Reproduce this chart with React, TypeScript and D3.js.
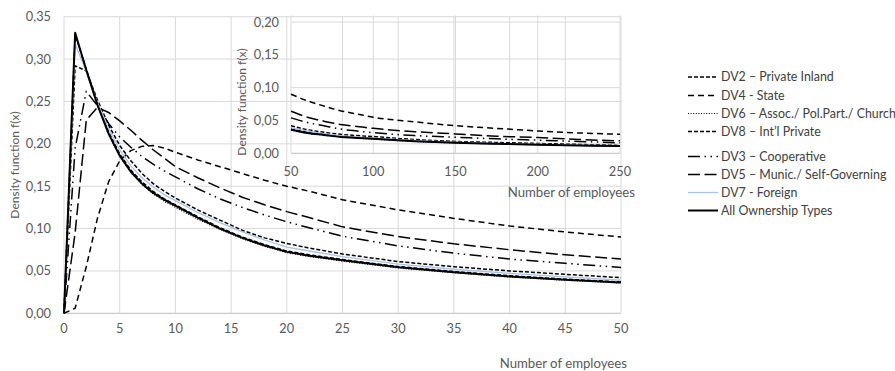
import * as d3 from 'd3';

// x positions (number of employees) for the main panel and the inset
const mainX = [0, 1, 2, 3, 4, 5, 6, 7, 8, 9, 10, 12, 14, 16, 18, 20, 22, 25, 30, 35, 40, 45, 50];
const insetX = [50, 60, 70, 80, 90, 100, 125, 150, 175, 200, 225, 250];

const yTicksMain = [0, 0.05, 0.1, 0.15, 0.2, 0.25, 0.3, 0.35];
const xTicksMain = [0, 5, 10, 15, 20, 25, 30, 35, 40, 45, 50];
const yTicksInset = [0, 0.05, 0.1, 0.15, 0.2];
const yGridInset = [0, 0.1, 0.2];
const xTicksInset = [50, 100, 150, 200, 250];

// density values (x = 0..50)
const dv2Main = [0, 0.329, 0.288, 0.248, 0.214, 0.188, 0.169, 0.155, 0.144, 0.135, 0.128, 0.114, 0.101, 0.090, 0.081, 0.0735, 0.069, 0.0635, 0.0552, 0.0493, 0.0443, 0.0403, 0.037];
const dv4Main = [0, 0.006, 0.055, 0.112, 0.155, 0.180, 0.192, 0.197, 0.198, 0.195, 0.190, 0.181, 0.173, 0.165, 0.157, 0.150, 0.144, 0.134, 0.122, 0.112, 0.103, 0.096, 0.090];
const dv6Main = [0, 0.330, 0.286, 0.245, 0.211, 0.185, 0.166, 0.152, 0.141, 0.132, 0.125, 0.111, 0.099, 0.088, 0.079, 0.0715, 0.067, 0.0615, 0.0535, 0.0478, 0.0428, 0.039, 0.0356];
const dv8Main = [0, 0.292, 0.286, 0.252, 0.222, 0.198, 0.180, 0.165, 0.153, 0.144, 0.136, 0.122, 0.110, 0.098, 0.089, 0.0825, 0.077, 0.070, 0.061, 0.055, 0.050, 0.046, 0.042];
const dv3Main = [0, 0.195, 0.262, 0.245, 0.224, 0.208, 0.196, 0.185, 0.176, 0.168, 0.161, 0.147, 0.135, 0.125, 0.116, 0.108, 0.101, 0.091, 0.0795, 0.071, 0.064, 0.059, 0.054];
const dv5Main = [0, 0.095, 0.228, 0.243, 0.237, 0.227, 0.216, 0.204, 0.193, 0.183, 0.173, 0.160, 0.148, 0.137, 0.128, 0.120, 0.113, 0.102, 0.0905, 0.082, 0.075, 0.069, 0.064];
const dv7Main = [0, 0.318, 0.285, 0.249, 0.218, 0.193, 0.174, 0.160, 0.149, 0.140, 0.133, 0.119, 0.107, 0.096, 0.0865, 0.078, 0.0735, 0.067, 0.058, 0.052, 0.047, 0.043, 0.039];
const allMain = [0, 0.331, 0.287, 0.246, 0.212, 0.186, 0.167, 0.153, 0.142, 0.134, 0.127, 0.113, 0.100, 0.089, 0.080, 0.0725, 0.068, 0.0625, 0.0543, 0.0485, 0.0435, 0.0395, 0.0362];

// density values (x = 50..250)
const dv2Inset = [0.037, 0.032, 0.029, 0.026, 0.024, 0.0225, 0.019, 0.0165, 0.015, 0.0136, 0.0124, 0.0113];
const dv4Inset = [0.090, 0.080, 0.072, 0.065, 0.060, 0.055, 0.048, 0.042, 0.038, 0.034, 0.031, 0.029];
const dv6Inset = [0.0355, 0.0305, 0.0275, 0.0248, 0.023, 0.0215, 0.018, 0.0157, 0.0142, 0.013, 0.0118, 0.0108];
const dv8Inset = [0.042, 0.036, 0.032, 0.029, 0.027, 0.0255, 0.021, 0.018, 0.0165, 0.015, 0.0135, 0.012];
const dv3Inset = [0.054, 0.047, 0.042, 0.037, 0.034, 0.0315, 0.027, 0.0245, 0.022, 0.020, 0.018, 0.016];
const dv5Inset = [0.064, 0.055, 0.049, 0.044, 0.041, 0.038, 0.033, 0.0295, 0.026, 0.024, 0.021, 0.019];
const dv7Inset = [0.039, 0.034, 0.030, 0.027, 0.025, 0.0235, 0.0195, 0.017, 0.015, 0.0138, 0.0125, 0.0115];
const allInset = [0.036, 0.031, 0.028, 0.025, 0.0235, 0.022, 0.0185, 0.016, 0.0145, 0.0132, 0.012, 0.011];

const seriesNames = [
  'DV2 – Private Inland',
  'DV4 - State',
  'DV6 – Assoc./ Pol.Part./ Church',
  'DV8 – Int’l Private',
  'DV3 – Cooperative',
  'DV5 – Munic./ Self-Governing',
  'DV7 - Foreign',
  'All Ownership Types',
];

type Style = { stroke: string; width: number; dash?: string };

const styles: Style[] = [
  { stroke: '#000', width: 1.5, dash: '4,2' },
  { stroke: '#000', width: 1.5, dash: '6,4' },
  { stroke: '#000', width: 1.1, dash: '1,1.6' },
  { stroke: '#000', width: 1.5, dash: '4,2' },
  { stroke: '#000', width: 1.5, dash: '12,4.5,1.5,4.5,1.5,4.5' },
  { stroke: '#000', width: 1.5, dash: '12,4.5' },
  { stroke: '#a9c3ea', width: 1.3 },
  { stroke: '#000', width: 2 },
];

const mainSeries = [dv2Main, dv4Main, dv6Main, dv8Main, dv3Main, dv5Main, dv7Main, allMain];
const insetSeries = [dv2Inset, dv4Inset, dv6Inset, dv8Inset, dv3Inset, dv5Inset, dv7Inset, allInset];
const legendRows = [77, 95.5, 113.5, 131.5, 156.5, 174.5, 192.5, 210.5];

const FONT = 'Lato, "Noto Sans", sans-serif';
const GRID = '#d9d9d9';
const TEXT = '#595959';

const fmt = (v: number) => v.toFixed(2).replace('.', ',');

export default function App() {
  const width = 895;
  const height = 371;

  const x = d3.scaleLinear().domain([0, 50]).range([64, 621]);
  const y = d3.scaleLinear().domain([0, 0.35]).range([313.3, 16.7]);

  const xi = d3.scaleLinear().domain([50, 250]).range([291, 620]);
  const yi = d3.scaleLinear().domain([0, 0.21]).range([153.3, 15.5]);

  const mainLine = (vals: number[]) =>
    d3.line<number>()
      .x((_, i) => x(mainX[i]))
      .y(d => y(d))
      .curve(d3.curveLinear)(vals) || '';

  const insetLine = (vals: number[]) =>
    d3.line<number>()
      .x((_, i) => xi(insetX[i]))
      .y(d => yi(d))
      .curve(d3.curveMonotoneX)(vals) || '';

  return (
    <svg width={width} height={height} style={{ position: 'absolute', left: 0, top: 0, background: '#fff' }}
      fontFamily={FONT}>
      {/* main grid */}
      <g>
        {yTicksMain.map(t => (
          <line key={'hy' + t} x1={x(0)} x2={x(50)} y1={y(t)} y2={y(t)} stroke={t === 0 ? '#bfbfbf' : GRID} strokeWidth={1} />
        ))}
        {xTicksMain.map(t => (
          <line key={'vx' + t} x1={x(t)} x2={x(t)} y1={y(0.35)} y2={y(0)} stroke={GRID} strokeWidth={1} />
        ))}
      </g>
      {/* inset grid */}
      <g>
        {yGridInset.map(t => (
          <line key={'ihy' + t} x1={xi(50)} x2={xi(250)} y1={yi(t)} y2={yi(t)} stroke={t === 0 ? '#bfbfbf' : GRID} strokeWidth={1} />
        ))}
        {xTicksInset.map(t => (
          <line key={'ivx' + t} x1={xi(t)} x2={xi(t)} y1={yi(0.21)} y2={yi(0)} stroke={GRID} strokeWidth={1} />
        ))}
      </g>

      {/* main axis labels */}
      <g fontSize={12.8} fill={TEXT}>
        {yTicksMain.map(t => (
          <text key={'ly' + t} x={51} y={y(t)} dy="0.35em" textAnchor="end">{fmt(t)}</text>
        ))}
        {xTicksMain.map(t => (
          <text key={'lx' + t} x={x(t)} y={333} textAnchor="middle">{t}</text>
        ))}
        <text x={627} y={368} textAnchor="end" fontSize={13.2}>Number of employees</text>
        <text transform={`translate(19,165) rotate(-90)`} textAnchor="middle" fontSize={12}>Density function f(x)</text>
      </g>

      {/* inset axis labels */}
      <g fontSize={12.8} fill={TEXT}>
        {yTicksInset.map(t => (
          <text key={'ily' + t} x={279} y={yi(t)} dy="0.35em" textAnchor="end">{fmt(t)}</text>
        ))}
        {xTicksInset.map(t => (
          <text key={'ilx' + t} x={xi(t)} y={176} textAnchor="middle">{t}</text>
        ))}
        <text x={635} y={197} textAnchor="end" fontSize={13.2}>Number of employees</text>
        <text transform={`translate(246,102) rotate(-90)`} textAnchor="middle" fontSize={12}>Density function f(x)</text>
      </g>

      {/* series */}
      <g fill="none" strokeLinejoin="round">
        {mainSeries.map((vals, i) => (
          <path key={'m' + i} d={mainLine(vals)} stroke={styles[i].stroke} strokeWidth={styles[i].width}
            strokeDasharray={styles[i].dash} />
        ))}
        {insetSeries.map((vals, i) => (
          <path key={'i' + i} d={insetLine(vals)} stroke={styles[i].stroke} strokeWidth={styles[i].width}
            strokeDasharray={styles[i].dash} />
        ))}
      </g>

      {/* legend */}
      <g fontSize={12.4} fill="#404040">
        {seriesNames.map((name, i) => (
          <g key={name} transform={`translate(0,${legendRows[i]})`}>
            <line x1={688} x2={718} y1={0} y2={0} stroke={styles[i].stroke} strokeWidth={styles[i].width}
              strokeDasharray={styles[i].dash} />
            <text x={721} y={0} dy="0.35em">{name}</text>
          </g>
        ))}
      </g>
    </svg>
  );
}
